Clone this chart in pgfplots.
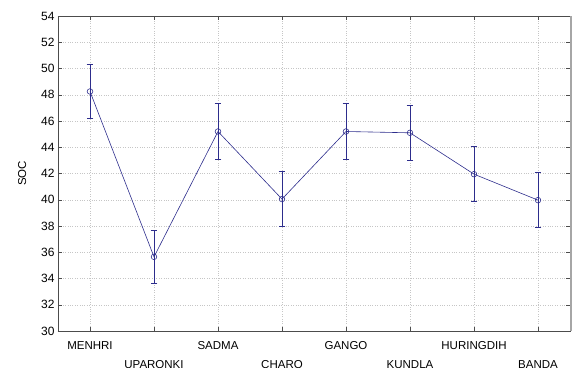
\documentclass[border=0pt]{standalone}
\usepackage{fontspec}
\setmainfont{Liberation Sans}
\usepackage{pgfplots}
\pgfplotsset{compat=1.18}
\definecolor{lc}{RGB}{45,45,140}
\begin{document}
\begin{tikzpicture}
\begin{axis}[name=ax, anchor=south west, at={(0pt,0pt)}, scale only axis,
 width=512pt, height=315pt,
 xmin=-0.5, xmax=7.5, ymin=30, ymax=54,
 ytick={30,32,...,54}, xtick={0,...,7},
 xticklabels={MENHRI,{\strut\\UPARONKI},SADMA,{\strut\\CHARO},GANGO,{\strut\\KUNDLA},HURINGDIH,{\strut\\BANDA}},
 xticklabel style={align=center, font=\fontsize{11.5}{16}\selectfont, yshift=-7pt},
 yticklabel style={font=\fontsize{12}{14}\selectfont},
 ylabel={SOC}, ylabel style={font=\fontsize{11.5}{14}\selectfont, yshift=8pt},
 grid=major, grid style={dotted, gray!45},
 tick align=inside, major tick length=4pt, tick pos=both,
 tick style={gray!60!black},
 axis line style={gray!60!black},
 /pgf/number format/assume math mode=true,
]
\addplot[color=lc, line width=0.6pt, mark=o, mark size=2.8pt, mark options={fill=white, solid, color=lc},
 error bars/.cd, y dir=both, y explicit,
 error bar style={color=lc, line width=0.8pt},
 error mark options={rotate=90, mark size=3.3pt, color=lc, line width=0.8pt}]
 table[x=x, y=y, y error=e] {
x y e
0 48.25 2.07
1 35.65 2.05
2 45.2 2.12
3 40.05 2.1
4 45.2 2.12
5 45.1 2.1
6 41.95 2.08
7 39.97 2.1
};
\end{axis}
\draw[gray!70, line width=1.5pt] ([xshift=0.75pt]ax.south east) -- ([xshift=0.75pt]ax.north east);
\pgfresetboundingbox
\useasboundingbox ([xshift=-58pt,yshift=-36pt]ax.south west) rectangle ([xshift=11pt,yshift=16pt]ax.north east);
\end{tikzpicture}
\end{document}
